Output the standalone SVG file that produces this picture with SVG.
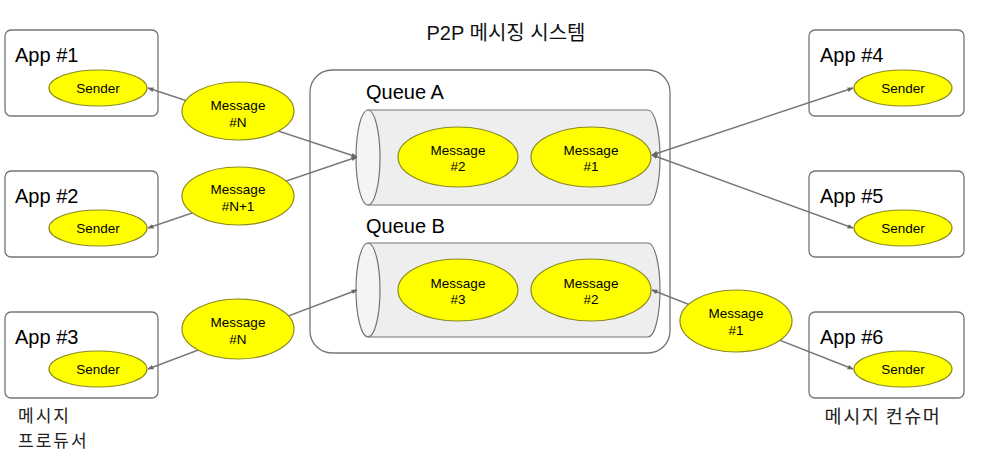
<svg xmlns="http://www.w3.org/2000/svg" width="988" height="468" viewBox="0 0 988 468">
<defs>
<style>
.app{fill:#fff;stroke:#757575;stroke-width:1.3}
.sys{fill:#fff;stroke:#757575;stroke-width:1.3}
.msg{fill:#ffff00;stroke:#8a8a20;stroke-width:1.2}
.cyl{fill:#eeeeee;stroke:#757575;stroke-width:1.2}
.cap{fill:#f4f4f4;stroke:#757575;stroke-width:1.2}
.conn{stroke:#777;stroke-width:1.4;fill:none;marker-start:url(#ah);marker-end:url(#ah)}
text{font-family:"Liberation Sans",Arial,"Noto Sans CJK KR",sans-serif;fill:#000}
.lbl{font-size:20px}
.small{font-size:13.5px;text-anchor:middle}
.kr{font-family:"Noto Sans CJK KR","Liberation Sans",sans-serif;font-size:18.5px;fill:#222;letter-spacing:1.5px}
.kr2{font-family:"Noto Sans CJK KR","Liberation Sans",sans-serif;font-size:17px;fill:#222;letter-spacing:2px}
.ttl{font-family:"Liberation Sans","Noto Sans CJK KR",sans-serif;font-size:20px;fill:#111}
</style>
<marker id="ah" viewBox="0 0 10 10" refX="9" refY="5" markerWidth="6" markerHeight="6" orient="auto-start-reverse" markerUnits="userSpaceOnUse">
<path d="M0,1 L10,5 L0,9 z" fill="#666"/>
</marker>
</defs>

<g id="system">
<rect class="sys" x="310" y="70" width="360" height="283" rx="22"/>
<text class="ttl" x="506" y="40" text-anchor="middle">P2P 메시징 시스템</text>
</g>

<g id="queueA">
<text class="lbl" x="366" y="99">Queue A</text>
<path class="cyl" d="M368,110 L648,110 A12,47.5 0 0 1 648,205 L368,205 Z"/>
<ellipse class="cap" cx="368" cy="157.5" rx="12" ry="47.5"/>
<g id="qa-msg2"><ellipse class="msg" cx="458" cy="157" rx="60" ry="30"/><text class="small" x="458" y="155">Message</text><text class="small" x="458" y="171">#2</text></g>
<g id="qa-msg1"><ellipse class="msg" cx="591" cy="157" rx="60" ry="30"/><text class="small" x="591" y="155">Message</text><text class="small" x="591" y="171">#1</text></g>
</g>

<g id="queueB">
<text class="lbl" x="366" y="233">Queue B</text>
<path class="cyl" d="M368,243 L648,243 A12,47 0 0 1 648,337 L368,337 Z"/>
<ellipse class="cap" cx="368" cy="290" rx="12" ry="47"/>
<g id="qb-msg3"><ellipse class="msg" cx="458" cy="290" rx="60" ry="31"/><text class="small" x="458" y="288">Message</text><text class="small" x="458" y="304">#3</text></g>
<g id="qb-msg2"><ellipse class="msg" cx="591" cy="290" rx="60" ry="31"/><text class="small" x="591" y="288">Message</text><text class="small" x="591" y="304">#2</text></g>
</g>

<g id="app1"><rect class="app" x="5" y="30" width="153" height="86" rx="6"/><text class="lbl" x="15" y="62">App #1</text><ellipse class="msg" cx="98" cy="88" rx="49" ry="18"/><text class="small" x="98" y="93">Sender</text></g>
<g id="app2"><rect class="app" x="5" y="171" width="153" height="86" rx="6"/><text class="lbl" x="15" y="203">App #2</text><ellipse class="msg" cx="98" cy="228" rx="49" ry="18"/><text class="small" x="98" y="233">Sender</text></g>
<g id="app3"><rect class="app" x="5" y="312" width="153" height="86" rx="6"/><text class="lbl" x="15" y="344">App #3</text><ellipse class="msg" cx="98" cy="369" rx="49" ry="18"/><text class="small" x="98" y="374">Sender</text></g>
<g id="app4"><rect class="app" x="809" y="30" width="155" height="86" rx="6"/><text class="lbl" x="820" y="62">App #4</text><ellipse class="msg" cx="903" cy="88" rx="49" ry="18"/><text class="small" x="903" y="93">Sender</text></g>
<g id="app5"><rect class="app" x="809" y="171" width="155" height="86" rx="6"/><text class="lbl" x="820" y="203">App #5</text><ellipse class="msg" cx="903" cy="228" rx="49" ry="18"/><text class="small" x="903" y="233">Sender</text></g>
<g id="app6"><rect class="app" x="809" y="312" width="155" height="86" rx="6"/><text class="lbl" x="820" y="344">App #6</text><ellipse class="msg" cx="903" cy="369" rx="49" ry="18"/><text class="small" x="903" y="374">Sender</text></g>

<g id="connectors">
<line class="conn" x1="148" y1="88" x2="357" y2="157"/>
<line class="conn" x1="148" y1="228" x2="357" y2="157"/>
<line class="conn" x1="148" y1="369" x2="357" y2="290"/>
<line class="conn" x1="853" y1="88" x2="652" y2="155"/>
<line class="conn" x1="853" y1="228" x2="652" y2="155"/>
<line class="conn" x1="853" y1="369" x2="652" y2="290"/>
</g>

<g id="msgN1"><ellipse class="msg" cx="238" cy="111" rx="56" ry="29"/><text class="small" x="238" y="110">Message</text><text class="small" x="238" y="127">#N</text></g>
<g id="msgN2"><ellipse class="msg" cx="238" cy="196" rx="56" ry="29"/><text class="small" x="238" y="194">Message</text><text class="small" x="238" y="211">#N+1</text></g>
<g id="msgN3"><ellipse class="msg" cx="238" cy="329" rx="56" ry="30"/><text class="small" x="238" y="327">Message</text><text class="small" x="238" y="344">#N</text></g>
<g id="msg1r"><ellipse class="msg" cx="736" cy="321" rx="56" ry="31"/><text class="small" x="736" y="318">Message</text><text class="small" x="736" y="335">#1</text></g>

<g id="producer-label"><text class="kr2" x="18" y="422">메시지</text><text class="kr2" x="18" y="447">프로듀서</text></g>
<g id="consumer-label"><text class="kr" x="883" y="423" text-anchor="middle">메시지 컨슈머</text></g>
</svg>
